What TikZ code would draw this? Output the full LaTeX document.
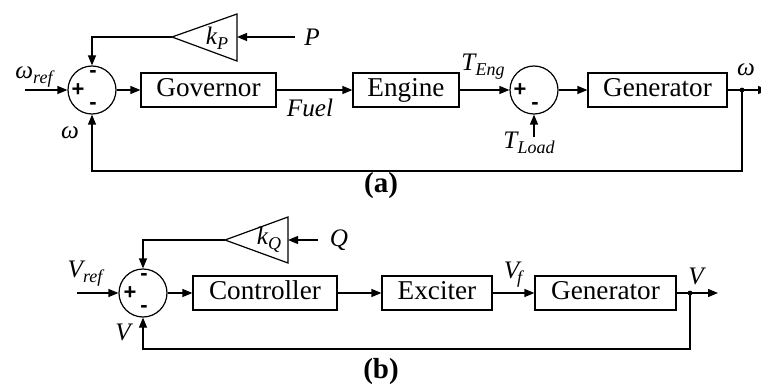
\documentclass[tikz,border=0pt]{standalone}
\usepackage{fontspec}
\setmainfont{Liberation Serif}
\newfontfamily\signfont{Liberation Sans}
\usetikzlibrary{arrows.meta}
\newcommand\lsub[1]{\raisebox{-0.45ex}{\fontsize{9}{10}\selectfont #1}}
\begin{document}
\begin{tikzpicture}[x=0.5pt,y=-0.5pt,
  line width=0.6pt,
  block/.style={draw, rectangle, inner sep=0pt, minimum height=17pt, text height=9.4pt, text depth=2.9pt, font=\fontsize{13.6}{15}\selectfont},
  sumc/.style={draw, circle, minimum size=24pt, inner sep=0pt},
  sign/.style={font=\signfont\bfseries\fontsize{11}{12}\selectfont, inner sep=0pt},
  lbl/.style={font=\itshape\fontsize{12.6}{14}\selectfont, inner sep=0pt},
  capt/.style={font=\bfseries\fontsize{14.5}{16}\selectfont, inner sep=0pt},
  arr/.style={-{Triangle[length=5pt,width=4pt]}},
  dotn/.style={circle, fill=black, inner sep=0pt, minimum size=2.4pt}
]
\useasboundingbox (0,0) rectangle (761,390);

% ---------- panel (a) ----------
\node[sumc] (s1) at (92,90) {};
\node[sign] (s1p) at (78,90) {+};
\node[sign] (s1t) at (93,74) {-};
\node[sign] (s1b) at (93,106) {-};
\coordinate (win) at (25,90);
\node[lbl] (wref) at (34,77) {ω\lsub{ref}};
\draw[arr] (win) -- (s1.west);

\coordinate (kpA) at (237,14);
\coordinate (kpB) at (237,61);
\coordinate (kptip) at (172,37);
\coordinate (kpin) at (237,37);
\draw (kpA) -- (kpB) -- (kptip) -- cycle;
\node[lbl] (kp) at (217,38) {k\lsub{P}};
\node[lbl] (P) at (312,37) {P};
\coordinate (Pst) at (295,37);
\draw[arr] (Pst) -- (kpin);
\draw[arr] (kptip) -| (s1.north);

\node[block, minimum width=67.5pt] (gov) at (208.5,90) {Governor};
\node[block, minimum width=53pt] (eng) at (406,90) {Engine};
\node[sumc] (s2) at (534,90) {};
\node[sign] (s2p) at (520,90) {+};
\node[sign] (s2b) at (535,106) {-};
\node[block, minimum width=69.5pt] (gena) at (657.5,90) {Generator};

\draw[arr] (s1.east) -- (gov.west);
\draw[arr] (gov.east) -- (eng.west);
\node[lbl] (fuel) at (310,108) {Fuel};
\draw[arr] (eng.east) -- (s2.west);
\node[lbl] (teng) at (483,67) {T\lsub{Eng}};
\coordinate (tl) at (534,137);
\draw[arr] (tl) -- (s2.south);
\node[lbl] (tload) at (529,143) {T\lsub{Load}};
\draw[arr] (s2.east) -- (gena.west);

\node[dotn] (dota) at (742,90) {};
\coordinate (outa) at (768,90);
\draw[arr] (gena.east) -- (outa);
\node[lbl] (wout) at (746,70) {ω};
\coordinate (fba) at (742,171);
\draw[arr] (dota.center) -- (fba) -| (s1.south);
\node[lbl] (wfb) at (70,133) {ω};
\node[capt] (capa) at (381,186) {(a)};

% ---------- panel (b) ----------
\node[sumc] (s3) at (143,293) {};
\node[sign] (s3p) at (130,293) {+};
\node[sign] (s3t) at (144,277) {-};
\node[sign] (s3b) at (144,309) {-};
\coordinate (vin) at (77,293);
\node[lbl] (vref) at (85,274) {V\lsub{ref}};
\draw[arr] (vin) -- (s3.west);

\coordinate (kqA) at (288,217);
\coordinate (kqB) at (288,263);
\coordinate (kqtip) at (225,240);
\coordinate (kqin) at (288,240);
\draw (kqA) -- (kqB) -- (kqtip) -- cycle;
\node[lbl] (kq) at (269,240) {k\lsub{Q}};
\node[lbl] (Q) at (339,240) {Q};
\coordinate (Qst) at (318,240);
\draw[arr] (Qst) -- (kqin);
\draw[arr] (kqtip) -| (s3.north);

\node[block, minimum width=72pt] (ctl) at (265,293) {Controller};
\node[block, minimum width=55pt] (exc) at (437,293) {Exciter};
\node[block, minimum width=70.5pt] (genb) at (605.5,293) {Generator};

\draw[arr] (s3.east) -- (ctl.west);
\draw[arr] (ctl.east) -- (exc.west);
\draw[arr] (exc.east) -- (genb.west);
\node[lbl] (vf) at (513,275) {V\lsub{\kern-1pt f}};

\node[dotn] (dotb) at (690,293) {};
\coordinate (outb) at (718,293);
\draw[arr] (genb.east) -- (outb);
\node[lbl] (vout) at (696,276) {V};
\coordinate (fbb) at (690,349);
\draw[arr] (dotb.center) -- (fbb) -| (s3.south);
\node[lbl] (vfb) at (123,332) {V};
\node[capt] (capb) at (381,372) {(b)};
\end{tikzpicture}
\end{document}
